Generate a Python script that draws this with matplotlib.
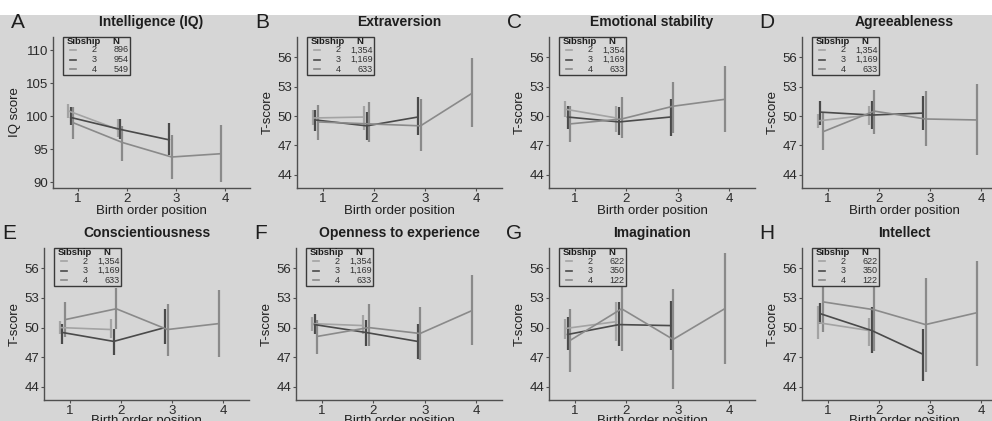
import numpy as np
import matplotlib
matplotlib.use("Agg")
import matplotlib.pyplot as plt
from matplotlib.patches import Rectangle
from matplotlib.lines import Line2D

plt.rcParams["font.family"] = ["Liberation Sans", "DejaVu Sans"]

# ---- data ----
SIBSHIPS = [2, 3, 4]
N_BIG5 = ["1,354", "1,169", "633"]
N_IQ = ["896", "954", "549"]
N_ASPECT = ["622", "350", "122"]

# means / lower / upper CI, one list per sibship size (2, 3, 4)
IQ_MEAN = [[100.8, 98.0], [99.8, 98.0, 96.4], [99.0, 96.0, 93.8, 94.3]]
IQ_LO = [[99.7, 96.9], [98.6, 96.6, 94.1], [96.6, 93.2, 90.4, 90.0]]
IQ_HI = [[101.9, 99.6], [101.4, 99.6, 98.9], [101.4, 98.5, 97.1, 98.6]]

EXT_MEAN = [[49.8, 49.9], [49.6, 49.0, 49.9], [49.4, 49.2, 49.0, 52.3]]
EXT_LO = [[49.1, 48.6], [48.5, 47.6, 48.1], [47.6, 47.4, 46.4, 48.9]]
EXT_HI = [[50.6, 51.0], [50.6, 50.4, 51.9], [51.1, 51.4, 51.7, 55.9]]

EMO_MEAN = [[50.7, 49.8], [49.9, 49.4, 49.9], [49.2, 49.7, 51.0, 51.7]]
EMO_LO = [[49.9, 48.4], [48.7, 48.1, 48.0], [47.4, 47.8, 48.3, 48.4]]
EMO_HI = [[51.5, 51.0], [51.0, 50.9, 51.7], [51.0, 51.9, 53.5, 55.1]]

AGR_MEAN = [[49.5, 50.1], [50.4, 50.1, 50.3], [48.4, 50.5, 49.7, 49.6]]
AGR_LO = [[48.8, 49.1], [49.1, 48.7, 48.6], [46.5, 48.2, 46.9, 46.0]]
AGR_HI = [[50.2, 51.0], [51.5, 51.5, 52.0], [50.4, 52.7, 52.5, 53.3]]

CON_MEAN = [[50.0, 49.8], [49.5, 48.6, 50.0], [50.8, 51.9, 49.8, 50.4]]
CON_LO = [[49.3, 48.9], [48.3, 47.2, 48.3], [49.0, 49.9, 47.1, 47.0]]
CON_HI = [[50.7, 50.9], [50.4, 49.9, 51.9], [52.6, 54.0, 52.4, 53.8]]

OPE_MEAN = [[50.4, 50.2], [50.3, 49.5, 48.6], [49.1, 50.0, 49.4, 51.7]]
OPE_LO = [[49.7, 49.3], [49.3, 48.1, 46.8], [47.3, 48.1, 46.7, 48.2]]
OPE_HI = [[51.1, 51.3], [51.4, 50.8, 50.4], [50.8, 52.4, 52.1, 55.3]]

IMA_MEAN = [[49.9, 50.6], [49.3, 50.3, 50.2], [48.7, 51.9, 48.8, 51.9]]
IMA_LO = [[48.8, 48.6], [47.7, 48.1, 47.7], [45.5, 47.6, 43.8, 46.3]]
IMA_HI = [[50.9, 52.6], [51.1, 52.6, 52.7], [51.9, 56.2, 53.9, 57.5]]

INT_MEAN = [[50.5, 49.7], [51.4, 49.7, 47.3], [52.6, 51.8, 50.3, 51.5]]
INT_LO = [[48.8, 48.1], [50.4, 47.4, 44.6], [49.6, 47.6, 45.5, 46.1]]
INT_HI = [[52.2, 51.0], [52.5, 52.1, 49.9], [55.6, 56.0, 55.0, 56.7]]

IQ_TICKS = [90, 95, 100, 105, 110]
T_TICKS = [44, 47, 50, 53, 56]

# ---- style / layout ----
W, H = 992, 421
BG = "#d6d6d6"
COLORS = ["#a3a3a3", "#4a4a4a", "#8a8a8a"]
DODGE = [-0.19, -0.14, -0.09]
AX_COL = "#4f4f4f"
TXT = "#1e1e1e"

# (letter, title, ylabel, means, lo, hi, N, box l, t, r, b in px)
panels = [
    ("A", "Intelligence (IQ)", "IQ score", IQ_MEAN, IQ_LO, IQ_HI, N_IQ, (53, 37, 250, 188)),
    ("B", "Extraversion", "T-score", EXT_MEAN, EXT_LO, EXT_HI, N_BIG5, (297, 37, 502, 188)),
    ("C", "Emotional stability", "T-score", EMO_MEAN, EMO_LO, EMO_HI, N_BIG5, (549, 37, 755, 188)),
    ("D", "Agreeableness", "T-score", AGR_MEAN, AGR_LO, AGR_HI, N_BIG5, (802, 37, 1007, 188)),
    ("E", "Conscientiousness", "T-score", CON_MEAN, CON_LO, CON_HI, N_BIG5, (44, 248, 249, 400)),
    ("F", "Openness to experience", "T-score", OPE_MEAN, OPE_LO, OPE_HI, N_BIG5, (296, 248, 502, 400)),
    ("G", "Imagination", "T-score", IMA_MEAN, IMA_LO, IMA_HI, N_ASPECT, (549, 248, 755, 400)),
    ("H", "Intellect", "T-score", INT_MEAN, INT_LO, INT_HI, N_ASPECT, (802, 248, 1007, 400)),
]


def fx(x):
    return x / W


def fy(y):
    return 1 - y / H


fig = plt.figure(figsize=(W / 100, H / 100), dpi=100, facecolor=BG)
# white strip along the top
fig.add_artist(Rectangle((0, fy(15)), 1, 15 / H, transform=fig.transFigure,
                         facecolor="white", edgecolor="none", zorder=0))

for letter, title, ylab, means, lo, hi, ns, (l, t, r, b) in panels:
    ax = fig.add_axes([fx(l), fy(b), (r - l) / W, (b - t) / H])
    ax.set_facecolor(BG)
    for k, sib in enumerate(SIBSHIPS):
        pos = np.arange(1, len(means[k]) + 1) + DODGE[k]
        ax.plot(pos, means[k], color=COLORS[k], lw=1.2, zorder=3)
        ax.vlines(pos, lo[k], hi[k], color=COLORS[k], lw=1.6, zorder=2)

    ax.set_xlim(0.5, 4.5)
    ax.set_xticks([1, 2, 3, 4])
    if ylab == "IQ score":
        ax.set_ylim(89.1, 112.0)
        ax.set_yticks(IQ_TICKS)
    else:
        ax.set_ylim(42.67, 58.05)
        ax.set_yticks(T_TICKS)
    for s in ["top", "right"]:
        ax.spines[s].set_visible(False)
    for s in ["left", "bottom"]:
        ax.spines[s].set_color(AX_COL)
        ax.spines[s].set_linewidth(1.0)
    ax.tick_params(direction="out", length=2.5, width=0.8, color=AX_COL,
                   labelsize=9.5, labelcolor="#2a2a2a", pad=1)

    cx = (l + r) / 2
    fig.text(fx(cx), fy(t - 15), title, ha="center", va="center",
             fontsize=10, fontweight="bold", color=TXT)
    fig.text(fx(l - 35), fy(t - 14), letter, ha="center", va="center",
             fontsize=15, color=TXT)
    fig.text(fx(l - 29 if letter != "A" else 15), fy((t + b) / 2), ylab,
             ha="center", va="center", rotation=90, fontsize=9.5, color=TXT)
    # bottom row: label sits at the lower edge, partly cut as in the source
    gap = 17 if b < 300 else 15
    fig.text(fx(cx), fy(b + gap), "Birth order position", ha="center",
             va="top", fontsize=9.5, color=TXT)

    # sibship / N key
    bl, bw, bh = l + 10, 67, 38
    fig.add_artist(Rectangle((fx(bl), fy(t + bh)), bw / W, bh / H,
                             transform=fig.transFigure, facecolor=BG,
                             edgecolor="#3a3a3a", lw=1.0, zorder=5))
    fig.text(fx(bl + 4), fy(t + 4.5), "Sibship", fontsize=6.8, fontweight="bold",
             ha="left", va="center", color=TXT, zorder=6)
    fig.text(fx(bl + 53), fy(t + 4.5), "N", fontsize=6.8, fontweight="bold",
             ha="center", va="center", color=TXT, zorder=6)
    for k, sib in enumerate(SIBSHIPS):
        yy = t + 13 + 9.6 * k
        fig.add_artist(Line2D([fx(bl + 7), fx(bl + 13)], [fy(yy), fy(yy)],
                              transform=fig.transFigure, color=COLORS[k],
                              lw=1.2, zorder=6))
        fig.text(fx(bl + 31), fy(yy), str(sib), fontsize=6.5, ha="center",
                 va="center", color="#333333", zorder=6)
        fig.text(fx(bl + bw - 1.5), fy(yy), ns[k], fontsize=6.5, ha="right",
                 va="center", color="#333333", zorder=6)

fig.savefig("out.png", dpi=100, facecolor=BG)
